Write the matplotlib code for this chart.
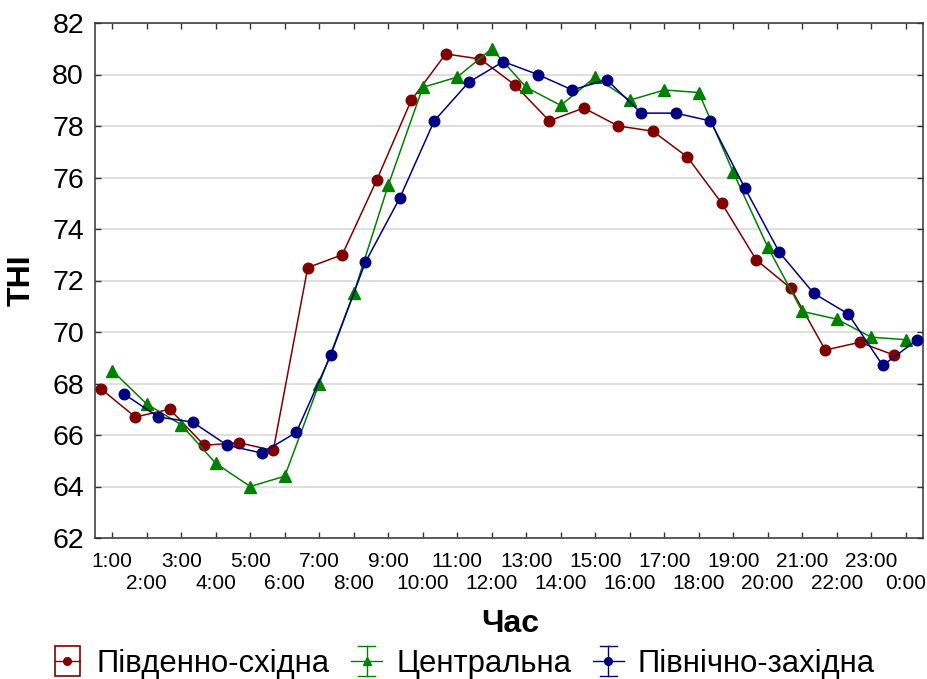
import matplotlib
matplotlib.use("Agg")
import matplotlib.pyplot as plt
from matplotlib.lines import Line2D
from matplotlib.patches import Rectangle
from matplotlib.legend_handler import HandlerBase

hours = ["1:00", "2:00", "3:00", "4:00", "5:00", "6:00", "7:00", "8:00",
         "9:00", "10:00", "11:00", "12:00", "13:00", "14:00", "15:00", "16:00",
         "17:00", "18:00", "19:00", "20:00", "21:00", "22:00", "23:00", "0:00"]

south_east = [67.8, 66.7, 67.0, 65.6, 65.7, 65.4, 72.5, 73.0, 75.9, 79.0, 80.8, 80.6,
              79.6, 78.2, 78.7, 78.0, 77.8, 76.8, 75.0, 72.8, 71.7, 69.3, 69.6, 69.1]
central = [68.5, 67.2, 66.4, 64.9, 64.0, 64.4, 68.0, 71.5, 75.7, 79.5, 79.9, 81.0,
           79.5, 78.8, 79.9, 79.0, 79.4, 79.3, 76.2, 73.3, 70.8, 70.5, 69.8, 69.7]
north_west = [67.6, 66.7, 66.5, 65.6, 65.3, 66.1, 69.1, 72.7, 75.2, 78.2, 79.7, 80.5,
              80.0, 79.4, 79.8, 78.5, 78.5, 78.2, 75.6, 73.1, 71.5, 70.7, 68.7, 69.7]

series_names = ["Південно-східна", "Центральна", "Північно-західна"]

plt.rcParams['font.family'] = ['Liberation Sans', 'DejaVu Sans']

RED = "#800000"
GREEN = "#008000"
BLUE = "#000080"

fig = plt.figure(figsize=(9.28, 6.79), dpi=100)
ax = fig.add_axes([95 / 928, 1 - 538 / 679, 828 / 928, 515 / 679])

idx = list(range(len(hours)))
x_red = [i - 1 / 3 for i in idx]
x_green = idx
x_blue = [i + 1 / 3 for i in idx]

ax.plot(x_red, south_east, color=RED, lw=1.1, marker='o', ms=7.6,
        mfc=RED, mec=RED, zorder=3)
ax.plot(x_green, central, color=GREEN, lw=1.1, marker='^', ms=8.0,
        mfc=GREEN, mec=GREEN, zorder=3)
ax.plot(x_blue, north_west, color=BLUE, lw=1.1, marker='o', ms=7.6,
        mfc=BLUE, mec=BLUE, zorder=3)

ax.set_xlim(-0.5, 23.5)
ax.set_ylim(62, 82)
ax.set_yticks(range(62, 83, 2))
ax.yaxis.grid(True, color="#dcdcdc", lw=1.3)
ax.set_axisbelow(True)

ax.set_xticks(idx[0::2])
ax.set_xticklabels(hours[0::2])
ax.set_xticks(idx[1::2], minor=True)
ax.set_xticklabels(hours[1::2], minor=True)

for sp in ax.spines.values():
    sp.set_linewidth(1.1)
    sp.set_color("#333333")

ax.tick_params(axis='y', which='both', direction='in', length=4, width=1,
               left=True, right=True, labelsize=20.5, pad=8, colors="#333333",
               labelcolor='black')
ax.tick_params(axis='x', which='major', direction='in', length=4, width=1,
               top=True, bottom=True, labelsize=15, pad=10, colors="#333333",
               labelcolor='black')
ax.tick_params(axis='x', which='minor', direction='in', length=4, width=1,
               top=True, bottom=True, labelsize=15, pad=26, colors="#333333",
               labelcolor='black')

fig.text(22 / 928, 1 - 280 / 679, "THI", fontsize=23, fontweight='bold',
         rotation=90, ha='center', va='center')
fig.text(510 / 928, 1 - 624 / 679, "Час", fontsize=23, fontweight='bold',
         ha='center', va='center')


class IconHandler(HandlerBase):
    def __init__(self, color, marker, boxed):
        super().__init__()
        self.color = color
        self.marker = marker
        self.boxed = boxed

    def create_artists(self, legend, orig_handle, xdescent, ydescent, width,
                       height, fontsize, trans):
        c = self.color
        cx = width / 2 - xdescent
        cy = height / 2 - ydescent
        arts = []
        hw = 9
        hh = 11
        if self.boxed:
            arts.append(Rectangle((cx - hw, cy - hh), 2 * hw, 2 * hh, fill=False,
                                  edgecolor=c, lw=1.2, transform=trans))
            arts.append(Line2D([cx - hw, cx + hw], [cy, cy], color=c, lw=1.0,
                               transform=trans))
        else:
            arts.append(Line2D([cx, cx], [cy - hh, cy + hh], color=c, lw=1.0,
                               transform=trans))
            arts.append(Line2D([cx - 6, cx + 6], [cy + hh, cy + hh], color=c, lw=1.0,
                               transform=trans))
            arts.append(Line2D([cx - 6, cx + 6], [cy - hh, cy - hh], color=c, lw=1.0,
                               transform=trans))
            arts.append(Line2D([cx - hw - 2, cx + hw + 2], [cy, cy], color=c, lw=1.0,
                               transform=trans))
        arts.append(Line2D([cx], [cy], marker=self.marker, ms=5.5, color=c,
                           mfc=c, mec=c, ls='none', transform=trans))
        return arts


h1 = Line2D([], [], color=RED)
h2 = Line2D([], [], color=GREEN)
h3 = Line2D([], [], color=BLUE)
fig.legend([h1, h2, h3], series_names, loc='center',
           bbox_to_anchor=(0.5, 1 - 664 / 679), ncol=3, frameon=False,
           fontsize=22.3, handlelength=0.9, handletextpad=0.5, columnspacing=0.75,
           borderpad=0.1,
           handler_map={h1: IconHandler(RED, 'o', True),
                        h2: IconHandler(GREEN, '^', False),
                        h3: IconHandler(BLUE, 'o', False)})

fig.savefig("out.png", dpi=100)
